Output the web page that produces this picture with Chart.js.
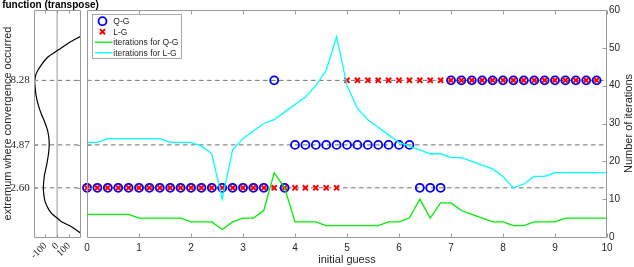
<!DOCTYPE html>
<html>
<head>
<meta charset="utf-8">
<script src="https://cdn.jsdelivr.net/npm/chart.js@4/dist/chart.umd.min.js"></script>
<style>
  html, body { margin: 0; padding: 0; background: #ffffff; }
  #wrap { position: relative; width: 634px; height: 267px; overflow: hidden; }
  canvas { position: absolute; left: 0; top: 0; }
</style>
</head>
<body>
<div id="wrap">
  <canvas id="main" width="634" height="267"></canvas>
  <canvas id="func" width="101" height="267"></canvas>
</div>
<script>
// ---------------- data ----------------
const initialGuess = [0,0.2,0.4,0.6,0.8,1,1.2,1.4,1.6,1.8,2,2.2,2.4,2.6,2.8,3,3.2,3.4,3.6,3.8,
  4,4.2,4.4,4.6,4.8,5,5.2,5.4,5.6,5.8,6,6.2,6.4,6.6,6.8,7,7.2,7.4,7.6,7.8,
  8,8.2,8.4,8.6,8.8,9,9.2,9.4,9.6,9.8,10];

const extremaLevels = [2.60, 4.87, 8.28];

const qgExtremum = [2.60,2.60,2.60,2.60,2.60,2.60,2.60,2.60,2.60,2.60,
  2.60,2.60,2.60,2.60,2.60,2.60,2.60,2.60,8.28,2.60,
  4.87,4.87,4.87,4.87,4.87,4.87,4.87,4.87,4.87,4.87,4.87,4.87,
  2.60,2.60,2.60,
  8.28,8.28,8.28,8.28,8.28,8.28,8.28,8.28,8.28,8.28,8.28,8.28,8.28,8.28,8.28,
  null];

const lgExtremum = [2.60,2.60,2.60,2.60,2.60,2.60,2.60,2.60,2.60,2.60,
  2.60,2.60,2.60,2.60,2.60,2.60,2.60,2.60,2.60,2.60,2.60,2.60,2.60,2.60,2.60,
  8.28,8.28,8.28,8.28,8.28,8.28,8.28,8.28,8.28,8.28,8.28,8.28,8.28,8.28,8.28,
  8.28,8.28,8.28,8.28,8.28,8.28,8.28,8.28,8.28,8.28,
  null];

const qgIterations = [6,6,6,6,6,5,5,5,5,5,4,4,4,2,4,5,5,7,17,13,
  4,4,4,3,3,3,3,3,3,4,4,5,10,5,9,9,7,6,5,4,
  4,3,3,4,4,4,5,5,5,5,5];

const lgIterations = [25,25,26,26,26,26,26,26,25,25,25,24,22,10,23,26,28,30,31,33,
  35,37,40,44,53,40,34,31,29,27,25,24,23,22,22,21,21,20,19,18,
  16,13,14,16,16,17,17,17,17,17,17];

const xTickValues = [0,1,2,3,4,5,6,7,8,9,10];
const iterTickValues = [0,10,20,30,40,50,60];

// left panel: the function, transposed (value vs variable)
const funcVariable = [0.2,0.54,0.81,1.0,1.25,1.5,1.87,2.2,2.6,3.2,3.8,4.4,4.87,5.3,5.7,6.1,6.5,7.0,7.5,8.0,8.28,8.65,9.09,9.53,9.88,10.24,10.62];
const funcValue    = [202,122,37,0,-48,-76,-103,-113,-118,-110,-90,-74,-68,-72,-85,-108,-135,-162,-180,-189,-191,-178,-136,-77,8,94,202];
const funcTickValues = [-100, 0, 100];
const funcZero = 0;

// ---------------- helpers ----------------
Chart.defaults.font.family = "'Liberation Sans', Arial, sans-serif";
Chart.defaults.color = '#262626';
const AXIS_COLOR = '#9a9a9a';
const DASH_COLOR = '#6e6e6e';

const pts = (xs, ys) => xs.map((x, i) => ({ x, y: ys[i] })).filter(p => p.y !== null && p.y !== undefined);

const frameTicks = {
  id: 'frameTicks',
  afterDatasetsDraw(chart, args, o) {
    const { ctx, chartArea: a } = chart;
    const L = Math.round(a.left) + 0.5, R = Math.round(a.right) - 0.5;
    const T = Math.round(a.top) + 0.5, B = Math.round(a.bottom) + 0.5;
    ctx.save();
    ctx.strokeStyle = o.color;
    ctx.lineWidth = 1;
    ctx.beginPath();
    ctx.moveTo(L, T); ctx.lineTo(R, T); ctx.lineTo(R, B); ctx.lineTo(L, B); ctx.closePath();
    const len = o.len;
    Object.entries(o.sides || {}).forEach(([id, mode]) => {
      const s = chart.scales[id];
      if (!s) return;
      s.ticks.forEach(t => {
        const p = Math.round(s.getPixelForValue(t.value)) + 0.5;
        if (s.isHorizontal()) {
          ctx.moveTo(p, B); ctx.lineTo(p, B - len);
          if (mode === 'both') { ctx.moveTo(p, T); ctx.lineTo(p, T + len); }
        } else {
          if (mode === 'left' || mode === 'both') { ctx.moveTo(L, p); ctx.lineTo(L + len, p); }
          if (mode === 'right' || mode === 'both') { ctx.moveTo(R, p); ctx.lineTo(R - len, p); }
        }
      });
    });
    ctx.stroke();
    ctx.restore();
  }
};

const boxLegend = {
  id: 'boxLegend',
  afterDraw(chart, args, o) {
    if (!o || !o.display) return;
    const { ctx, chartArea: a } = chart;
    const items = chart.data.datasets.filter(d => d.inLegend);
    ctx.save();
    ctx.font = o.font;
    const tw = Math.max(...items.map(d => ctx.measureText(d.label).width));
    const x0 = Math.round(a.left + o.dx) + 0.5, y0 = Math.round(a.top + o.dy) + 0.5;
    const w = Math.round(o.textX + tw + o.padR);
    const h = Math.round(o.padT + o.rowH * (items.length - 1) + o.padB);
    ctx.fillStyle = '#ffffff';
    ctx.fillRect(x0, y0, w, h);
    ctx.strokeStyle = o.border; ctx.lineWidth = 1;
    ctx.strokeRect(x0, y0, w, h);
    items.forEach((d, i) => {
      const cy = y0 + o.padT + i * o.rowH;
      const mx = x0 + o.markX;
      if (d.showLine === false) {
        ctx.strokeStyle = d.pointBorderColor; ctx.lineWidth = d.pointBorderWidth;
        ctx.beginPath();
        if (d.pointStyle === 'circle') {
          ctx.arc(mx, cy, d.pointRadius, 0, Math.PI * 2);
        } else {
          const r = d.pointRadius * Math.SQRT1_2;
          ctx.moveTo(mx - r, cy - r); ctx.lineTo(mx + r, cy + r);
          ctx.moveTo(mx - r, cy + r); ctx.lineTo(mx + r, cy - r);
        }
        ctx.stroke();
      } else {
        ctx.strokeStyle = d.borderColor; ctx.lineWidth = d.borderWidth;
        ctx.beginPath();
        ctx.moveTo(x0 + o.lineX0, cy); ctx.lineTo(x0 + o.lineX1, cy);
        ctx.stroke();
      }
      ctx.fillStyle = o.color;
      ctx.textAlign = 'left'; ctx.textBaseline = 'middle';
      ctx.fillText(d.label, x0 + o.textX, cy + 0.5);
    });
    ctx.restore();
  }
};

const rotTitle = {
  id: 'rotTitle',
  afterDraw(chart, args, o) {
    if (!o || !o.text) return;
    const s = chart.scales[o.scale];
    const { ctx } = chart;
    ctx.save();
    ctx.translate(s.right - o.inset, (s.top + s.bottom) / 2);
    ctx.rotate(-Math.PI / 2);
    ctx.font = o.font;
    ctx.fillStyle = o.color;
    ctx.textAlign = 'center'; ctx.textBaseline = 'middle';
    ctx.fillText(o.text, 0, 0);
    ctx.restore();
  }
};

const levelLine = (lvl, xMin, xMax, yAxisID) => ({
  type: 'line', data: [{ x: xMin, y: lvl }, { x: xMax, y: lvl }],
  yAxisID, borderColor: DASH_COLOR, borderWidth: 1, borderDash: [4.5, 3.5],
  pointRadius: 0, order: 20, inLegend: false
});

// ---------------- main chart ----------------
const X_MIN = 0, X_MAX = 10;
new Chart(document.getElementById('main'), {
  type: 'line',
  data: {
    datasets: [
      {
        type: 'scatter', label: 'Q-G', data: pts(initialGuess, qgExtremum), yAxisID: 'y',
        showLine: false, pointStyle: 'circle', pointRadius: 4, pointBorderWidth: 1.8,
        pointBorderColor: '#0000ff', pointBackgroundColor: 'rgba(0,0,0,0)',
        borderColor: '#0000ff', clip: false, order: 4, inLegend: true
      },
      {
        type: 'scatter', label: 'L-G', data: pts(initialGuess, lgExtremum), yAxisID: 'y',
        showLine: false, pointStyle: 'crossRot', pointRadius: 3.6, pointBorderWidth: 2,
        pointBorderColor: '#ff0000', pointBackgroundColor: '#ff0000',
        borderColor: '#ff0000', clip: false, order: 3, inLegend: true
      },
      {
        type: 'line', label: 'iterations for Q-G', data: pts(initialGuess, qgIterations), yAxisID: 'y2',
        borderColor: '#00ee00', borderWidth: 1.3, pointRadius: 0, tension: 0, order: 2, inLegend: true
      },
      {
        type: 'line', label: 'iterations for L-G', data: pts(initialGuess, lgIterations), yAxisID: 'y2',
        borderColor: '#00ffff', borderWidth: 1.3, pointRadius: 0, tension: 0, order: 1, inLegend: true
      },
      ...extremaLevels.map(l => levelLine(l, X_MIN, X_MAX, 'y'))
    ]
  },
  options: {
    responsive: false, animation: false, devicePixelRatio: 1,
    layout: { padding: { top: 10, left: 0, right: 0, bottom: 0 } },
    plugins: {
      legend: { display: false }, tooltip: { enabled: false },
      frameTicks: { color: AXIS_COLOR, len: 4, sides: { x: 'both', y: 'left', y2: 'right' } },
      boxLegend: {
        display: true, font: "8.5px 'Liberation Sans', Arial, sans-serif", color: '#262626',
        border: '#a8a8a8', dx: 4.7, dy: 4, markX: 10, textX: 20.8, lineX0: 2.3, lineX1: 20,
        padT: 6.7, rowH: 10.5, padB: 5.3, padR: 3
      },
      rotTitle: { text: 'Number of iterations', scale: 'y2', inset: 5, color: '#262626',
        font: "11px 'Liberation Sans', Arial, sans-serif" }
    },
    scales: {
      x: {
        type: 'linear', position: 'bottom', min: X_MIN, max: X_MAX,
        afterBuildTicks: s => { s.ticks = xTickValues.map(v => ({ value: v })); },
        grid: { display: false, drawTicks: false }, border: { display: false },
        ticks: { font: { size: 10 }, padding: 5, maxRotation: 0, autoSkip: false },
        title: { display: true, text: 'initial guess', font: { size: 11 }, padding: { top: 0, bottom: 0 } },
        afterFit: s => { s.height = 30; }
      },
      y: {
        type: 'linear', position: 'left', min: 0, max: 12,
        afterBuildTicks: s => { s.ticks = extremaLevels.map(v => ({ value: v })); },
        grid: { display: false, drawTicks: false }, border: { display: false },
        ticks: { display: false },
        afterFit: s => { s.width = 87; }
      },
      y2: {
        type: 'linear', position: 'right', min: 0, max: 60,
        afterBuildTicks: s => { s.ticks = iterTickValues.map(v => ({ value: v })); },
        grid: { display: false, drawTicks: false }, border: { display: false },
        ticks: { font: { size: 10 }, padding: 2 },
        afterFit: s => { s.width = 27; }
      }
    }
  },
  plugins: [frameTicks, boxLegend, rotTitle]
});

// ---------------- left panel: function (transpose) ----------------
const F_MIN = -200, F_MAX = 200;
new Chart(document.getElementById('func'), {
  type: 'line',
  data: {
    datasets: [
      {
        label: 'function', data: pts(funcValue, funcVariable), borderColor: '#000000',
        borderWidth: 1.2, pointRadius: 0, tension: 0.3, order: 1
      },
      {
        label: 'zero', data: [{ x: funcZero, y: 0 }, { x: funcZero, y: 12 }], borderColor: '#c4c4c4',
        borderWidth: 1.8, pointRadius: 0, order: 5
      },
      ...extremaLevels.map(l => levelLine(l, F_MIN, F_MAX, 'y'))
    ]
  },
  options: {
    responsive: false, animation: false, devicePixelRatio: 1,
    layout: { padding: 0 },
    plugins: {
      legend: { display: false }, tooltip: { enabled: false },
      title: {
        display: true, text: 'function (transpose)', color: '#000000', padding: 0,
        font: { size: 10, weight: 'bold', lineHeight: 1 }
      },
      frameTicks: { color: AXIS_COLOR, len: 3, sides: { x: 'both', y: 'both' } }
    },
    scales: {
      x: {
        type: 'linear', position: 'bottom', min: F_MIN, max: F_MAX,
        afterBuildTicks: s => { s.ticks = funcTickValues.map(v => ({ value: v })); },
        grid: { display: false, drawTicks: false }, border: { display: false },
        ticks: { font: { family: "'Liberation Serif', 'Times New Roman', serif", size: 10 },
          minRotation: 45, maxRotation: 45, padding: 3, autoSkip: false },
        afterFit: s => { s.height = 30; }
      },
      y: {
        type: 'linear', position: 'left', min: 0, max: 12,
        afterBuildTicks: s => { s.ticks = extremaLevels.map(v => ({ value: v })); },
        grid: { display: false, drawTicks: false }, border: { display: false },
        ticks: { font: { family: "'Liberation Serif', 'Times New Roman', serif", size: 11, lineHeight: 1 },
          padding: 4, callback: v => Number(v).toFixed(2) },
        title: { display: true, text: 'extremum where convergence occurred', font: { size: 11 },
          padding: { top: 1.5, bottom: 0 } },
        afterFit: s => { s.width = 33.7; }
      },
      yr: {
        type: 'linear', position: 'right', display: true,
        grid: { display: false, drawTicks: false }, border: { display: false },
        ticks: { display: false },
        afterFit: s => { s.width = 20.3; }
      }
    }
  },
  plugins: [frameTicks]
});
</script>
</body>
</html>
